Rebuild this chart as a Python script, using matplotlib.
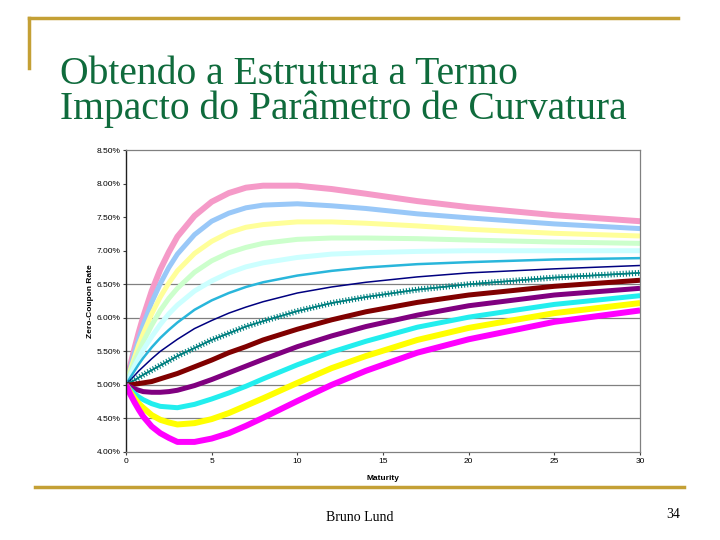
import matplotlib
matplotlib.use("Agg")
import matplotlib.pyplot as plt
import matplotlib.patheffects as pe
from matplotlib.lines import Line2D
from matplotlib.ticker import FuncFormatter

# maturities (years) and zero-coupon rates (%)
maturity = [0, 0.25, 0.5, 0.75, 1, 1.5, 2, 2.5, 3, 4, 5, 6, 7, 8, 10, 12, 14, 17, 20, 25, 30]

pink = [5.00, 5.29, 5.55, 5.79, 6.01, 6.40, 6.72, 6.98, 7.21, 7.52, 7.73, 7.86, 7.94, 7.97, 7.97, 7.92, 7.85, 7.74, 7.65, 7.53, 7.44]
light_blue = [5.00, 5.25, 5.48, 5.69, 5.89, 6.23, 6.51, 6.75, 6.95, 7.24, 7.44, 7.56, 7.64, 7.68, 7.70, 7.67, 7.63, 7.55, 7.49, 7.40, 7.33]
light_yellow = [5.00, 5.22, 5.41, 5.60, 5.76, 6.06, 6.31, 6.52, 6.70, 6.96, 7.14, 7.27, 7.35, 7.39, 7.43, 7.43, 7.41, 7.37, 7.32, 7.26, 7.22]
light_green = [5.00, 5.18, 5.35, 5.50, 5.64, 5.89, 6.11, 6.29, 6.44, 6.68, 6.85, 6.97, 7.05, 7.11, 7.17, 7.19, 7.19, 7.18, 7.16, 7.13, 7.11]
light_cyan = [5.00, 5.14, 5.28, 5.40, 5.52, 5.72, 5.90, 6.06, 6.19, 6.40, 6.55, 6.67, 6.76, 6.82, 6.90, 6.95, 6.97, 6.99, 7.00, 7.00, 7.00]
sky = [5.00, 5.11, 5.21, 5.31, 5.40, 5.56, 5.70, 5.82, 5.93, 6.12, 6.26, 6.37, 6.46, 6.53, 6.63, 6.70, 6.75, 6.80, 6.83, 6.87, 6.89]
navy = [5.00, 5.07, 5.14, 5.21, 5.27, 5.39, 5.50, 5.59, 5.68, 5.84, 5.96, 6.07, 6.16, 6.24, 6.37, 6.46, 6.53, 6.61, 6.67, 6.73, 6.78]
teal = [5.00, 5.04, 5.07, 5.11, 5.15, 5.22, 5.29, 5.36, 5.43, 5.55, 5.67, 5.77, 5.87, 5.95, 6.10, 6.22, 6.31, 6.42, 6.50, 6.60, 6.67]
dark_red = [5.00, 5.00, 5.01, 5.02, 5.03, 5.05, 5.09, 5.13, 5.17, 5.27, 5.37, 5.48, 5.57, 5.67, 5.83, 5.97, 6.09, 6.23, 6.34, 6.47, 6.56]
purple = [5.00, 4.97, 4.94, 4.92, 4.90, 4.89, 4.89, 4.90, 4.92, 4.99, 5.08, 5.18, 5.28, 5.38, 5.57, 5.73, 5.87, 6.04, 6.18, 6.34, 6.44]
cyan = [5.00, 4.93, 4.87, 4.82, 4.78, 4.72, 4.68, 4.67, 4.66, 4.71, 4.79, 4.88, 4.98, 5.09, 5.30, 5.49, 5.65, 5.86, 6.01, 6.20, 6.33]
yellow = [5.00, 4.89, 4.80, 4.72, 4.66, 4.55, 4.48, 4.44, 4.41, 4.43, 4.49, 4.58, 4.69, 4.80, 5.03, 5.25, 5.43, 5.67, 5.85, 6.07, 6.22]
magenta = [5.00, 4.86, 4.74, 4.63, 4.53, 4.38, 4.28, 4.21, 4.15, 4.15, 4.20, 4.28, 4.39, 4.51, 4.76, 5.00, 5.21, 5.48, 5.68, 5.94, 6.11]

y_ticks = [4.0, 4.5, 5.0, 5.5, 6.0, 6.5, 7.0, 7.5, 8.0, 8.5]
grid_levels = [4.5, 5.0, 5.5, 6.0, 6.5]
x_ticks = [0, 5, 10, 15, 20, 25, 30]

series = [
    (pink, "#f59ac8", 4.3),
    (light_blue, "#99c8f8", 3.6),
    (light_yellow, "#ffff99", 3.6),
    (light_green, "#ccffcc", 3.6),
    (light_cyan, "#ccffff", 3.6),
    (sky, "#29b6db", 1.8),
    (navy, "#000080", 1.1),
    (teal, "#008080", 1.1),
    (dark_red, "#800000", 3.6),
    (purple, "#800080", 3.6),
    (cyan, "#22eeee", 3.6),
    (yellow, "#ffff00", 4.3),
    (magenta, "#ff00ff", 4.3),
]

fig = plt.figure(figsize=(7.2, 5.4), dpi=100)
fig.patch.set_facecolor("white")

# slide decoration
gold = "#c4a035"
fig.add_artist(Line2D([0.040, 0.941], [0.967, 0.967], color=gold, lw=2.5, transform=fig.transFigure))
fig.add_artist(Line2D([0.040, 0.040], [0.967, 0.874], color=gold, lw=2.5, transform=fig.transFigure))
fig.add_artist(Line2D([0.049, 0.950], [0.098, 0.098], color=gold, lw=2.5, transform=fig.transFigure))

green = "#0f6b3c"
fig.text(0.083, 0.896, "Obtendo a Estrutura a Termo\nImpacto do Parâmetro de Curvatura",
         family="Liberation Serif", fontsize=28.5, color=green, va="top", linespacing=0.92)
fig.text(0.500, 0.035, "Bruno Lund", family="Liberation Serif", fontsize=10, ha="center")
fig.text(0.935, 0.040, "34", family="Liberation Serif", fontsize=10, ha="center")

ax = fig.add_axes([0.175, 0.163, 0.714, 0.559])
for lvl in grid_levels:
    ax.axhline(lvl, color="#808080", lw=0.9, zorder=0)

for vals, col, lw in series:
    if vals is teal:
        ax.plot(maturity, vals, color=col, lw=lw, solid_joinstyle="round",
                path_effects=[pe.withTickedStroke(angle=90, spacing=2.2, length=0.8, linewidth=0.8),
                              pe.withTickedStroke(angle=-90, spacing=2.2, length=0.8, linewidth=0.8)])
    else:
        ax.plot(maturity, vals, color=col, lw=lw, solid_joinstyle="round", solid_capstyle="butt")

ax.set_xlim(0, 30)
ax.set_ylim(4.0, 8.5)
ax.set_xticks(x_ticks)
ax.set_yticks(y_ticks)
ax.yaxis.set_major_formatter(FuncFormatter(lambda v, p: f"{v:.2f}%"))
ax.tick_params(labelsize=6, length=2, width=0.8, color="#404040", pad=2)
for lab in ax.get_xticklabels() + ax.get_yticklabels():
    lab.set_family("Liberation Sans")

for s in ["top", "right", "bottom"]:
    ax.spines[s].set_color("#808080")
    ax.spines[s].set_linewidth(0.9)
ax.spines["left"].set_color("#202020")
ax.spines["left"].set_linewidth(1.0)

ax.set_xlabel("Maturity", family="Liberation Sans", fontsize=6, fontweight="bold")
ax.set_ylabel("Zero-Coupon Rate", family="Liberation Sans", fontsize=6, fontweight="bold", labelpad=2)
ax.xaxis.set_label_coords(0.5, -0.075)

fig.savefig("out.png", dpi=100, facecolor="white")
